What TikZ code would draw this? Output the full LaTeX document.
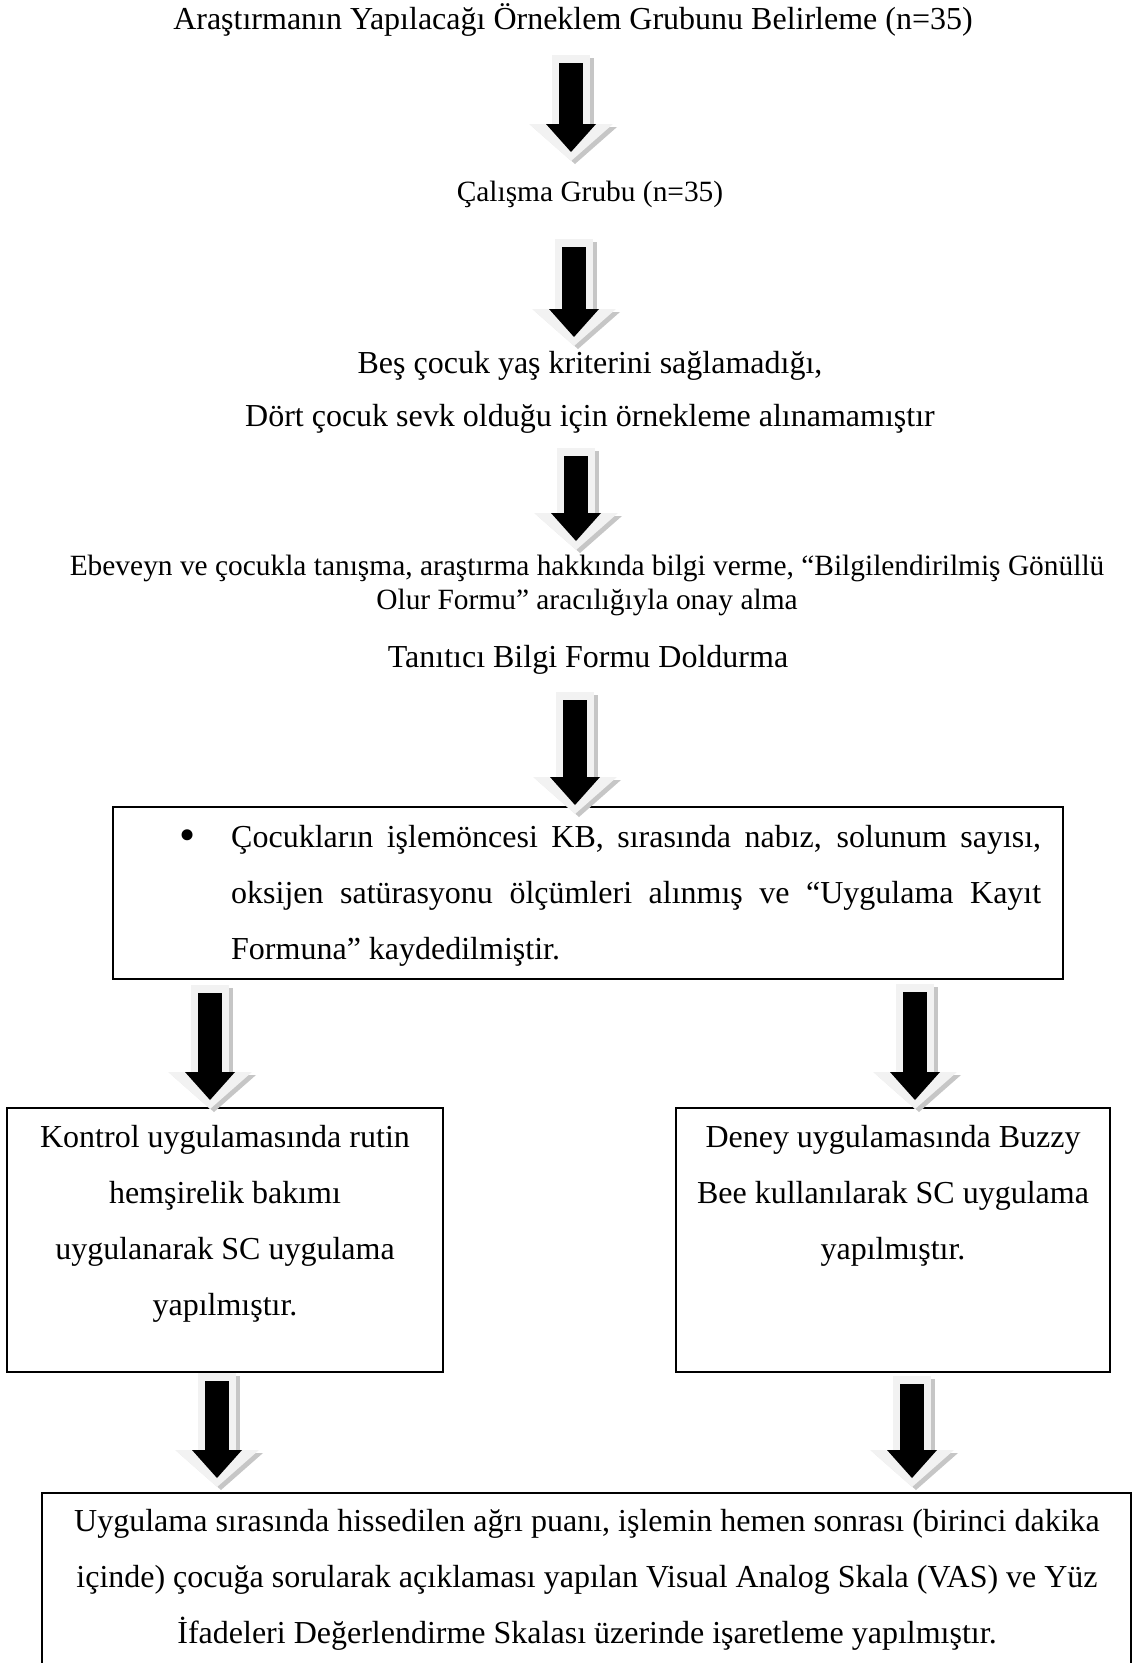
\documentclass[tikz,border=0pt]{standalone}
\usepackage{fontspec}
\setmainfont{Liberation Serif}
\usetikzlibrary{arrows.meta,positioning,calc}

\tikzset{
  flowtxt/.style={inner sep=0pt, align=center, font=\fontsize{32}{56}\selectfont},
  smalltxt/.style={inner sep=0pt, align=center, font=\fontsize{29.4}{34}\selectfont},
  flowbox/.style={draw, line width=1.6pt, inner sep=0pt},
  arrshadow/.style={draw=gray!45, line width=38pt, -{Triangle[length=37pt,width=84pt,line width=0pt]}},
  arrrim/.style={draw=gray!10, line width=38pt, -{Triangle[length=37pt,width=84pt,line width=0pt]}},
  arrcore/.style={draw=black, line width=24pt, -{Triangle[length=28pt,width=50pt,line width=0pt]}},
}

\begin{document}
\begin{tikzpicture}[x=1pt, y=-1pt]
    \useasboundingbox (0,0) rectangle (1138,1663);

    % steps above the boxes
    \node[flowtxt, anchor=base] (sample) at (573,29) {Araştırmanın Yapılacağı Örneklem Grubunu Belirleme (n=35)};
    \node[smalltxt, anchor=base] (group) at (590,201) {Çalışma Grubu (n=35)};
    \node[flowtxt, anchor=north, font=\fontsize{32}{53}\selectfont] (excluded) at (590,351)
        {Beş çocuk yaş kriterini sağlamadığı,\\Dört çocuk sevk olduğu için örnekleme alınamamıştır};
    \node[smalltxt, anchor=north] (consent) at (587,555)
        {Ebeveyn ve çocukla tanışma, araştırma hakkında bilgi verme, “Bilgilendirilmiş Gönüllü\\Olur Formu” aracılığıyla onay alma};
    \node[flowtxt, anchor=base] (infoform) at (588,667) {Tanıtıcı Bilgi Formu Doldurma};

    % boxes
    \node[flowbox, minimum width=950pt, minimum height=172pt] (prebox) at (588,893) {};
    \node[flowtxt, anchor=north west, align=left] (pretxt) at (182,825)
        {\makebox[49pt][l]{\hspace*{-3pt}\raisebox{-3pt}{\fontsize{46}{46}\selectfont\textbullet}}\makebox[810pt][s]{Çocukların işlemöncesi KB, sırasında nabız, solunum sayısı,}\\
         \hspace*{49pt}\makebox[810pt][s]{oksijen satürasyonu ölçümleri alınmış ve “Uygulama Kayıt}\\
         \hspace*{49pt}Formuna” kaydedilmiştir.};

    \node[flowbox, minimum width=436pt, minimum height=264pt] (ctrlbox) at (225,1240) {};
    \node[flowtxt, anchor=north] (ctrltxt) at (225,1125)
        {Kontrol uygulamasında rutin\\hemşirelik bakımı\\uygulanarak SC uygulama\\yapılmıştır.};

    \node[flowbox, minimum width=434pt, minimum height=264pt] (expbox) at (893,1240) {};
    \node[flowtxt, anchor=north] (exptxt) at (893,1125)
        {Deney uygulamasında Buzzy\\Bee kullanılarak SC uygulama\\yapılmıştır.};

    \draw[line width=1.6pt] (1131,1700) -- (1131,1493) -- (42,1493) -- (42,1700);
    \node[flowtxt, anchor=north] (result) at (587,1509)
        {Uygulama sırasında hissedilen ağrı puanı, işlemin hemen sonrası (birinci dakika\\
         içinde) çocuğa sorularak açıklaması yapılan Visual Analog Skala (VAS) ve Yüz\\
         İfadeleri Değerlendirme Skalası üzerinde işaretleme yapılmıştır.};

    % block arrows
    \coordinate (a1s) at (571,55);   \coordinate (a1e) at (571,161);
    \coordinate (a2s) at (574,239);  \coordinate (a2e) at (574,346);
    \coordinate (a3s) at (576,448);  \coordinate (a3e) at (576,550);
    \coordinate (a4s) at (575,692);  \coordinate (a4e) at (575,814);
    \coordinate (a5s) at (210,985);  \coordinate (a5e) at (210,1109);
    \coordinate (a6s) at (915,984);  \coordinate (a6e) at (915,1109);
    \coordinate (a7s) at (217,1373); \coordinate (a7e) at (217,1487);
    \coordinate (a8s) at (912,1376); \coordinate (a8e) at (912,1487);

    \foreach \s/\e in {a1s/a1e, a2s/a2e, a3s/a3e, a4s/a4e, a5s/a5e, a6s/a6e, a7s/a7e, a8s/a8e} {
        \draw[arrshadow] ([shift={(4,3)}]\s) -- ([shift={(4,3)}]\e);
        \draw[arrrim] (\s) -- (\e);
        \draw[arrcore] ([yshift=-8pt]\s) -- ([yshift=9pt]\e);
    }
\end{tikzpicture}
\end{document}
